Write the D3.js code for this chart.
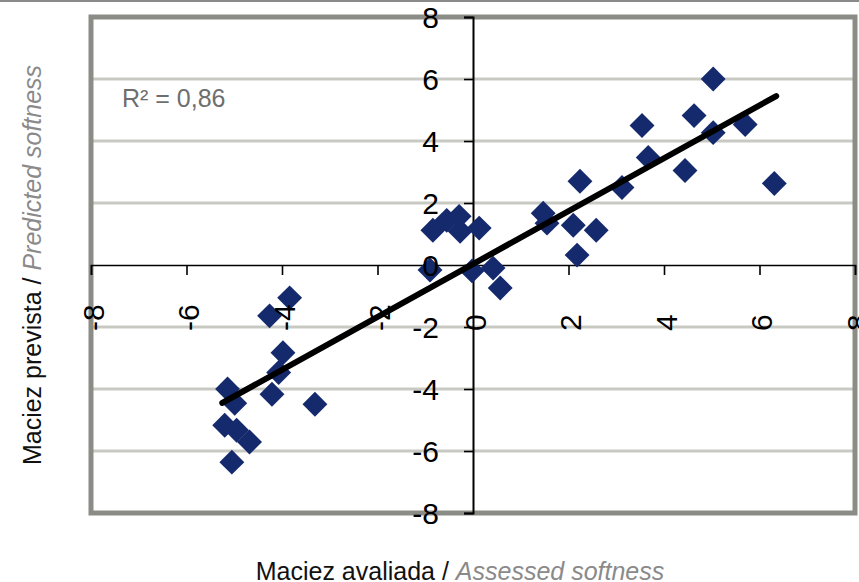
<!DOCTYPE html>
<html>
<head>
<meta charset="utf-8">
<script src="https://cdn.jsdelivr.net/npm/d3@7"></script>
<style>
    body { margin: 0; background: #fff; }
    svg { display: block; font-family: "Liberation Sans", Arial, sans-serif; }
</style>
</head>
<body>
<div id="chart"></div>
<script>
// Values
var assessed = [
    5.03, 4.63, 3.54, 5.03, 5.70, 3.67, 4.44, 2.24, 3.12, 6.31,
    1.47, 1.55, 2.10, 2.58, 2.18,
    -0.84, -0.55, -0.29, -0.27, 0.13, -0.90, -0.02, 0.42, 0.57,
    -3.84, -4.26, -3.98, -4.07, -5.14, -4.99, -4.21, -3.31, -5.20, -4.95, -4.68, -5.05
];
var predicted = [
    6.00, 4.82, 4.50, 4.27, 4.53, 3.47, 3.05, 2.70, 2.50, 2.63,
    1.67, 1.35, 1.28, 1.12, 0.32,
    1.12, 1.44, 1.57, 1.09, 1.19, -0.16, -0.19, -0.10, -0.74,
    -1.06, -1.64, -2.83, -3.47, -4.00, -4.46, -4.17, -4.49, -5.17, -5.33, -5.71, -6.36
];
var trendX = [-5.25, 6.35];
var trendY = [-4.45, 5.45];
var xTicks = [-8, -6, -4, -2, 0, 2, 4, 6, 8];
var yTicks = [-8, -6, -4, -2, 0, 2, 4, 6, 8];
var r2Label = "R\u00b2 = 0,86";

var width = 859, height = 582;
var plot = { left: 91, right: 855, top: 17, bottom: 513 };

var svg = d3.select("#chart").append("svg")
    .attr("width", width)
    .attr("height", height);

var x = d3.scaleLinear().domain([-8, 8]).range([plot.left, plot.right]);
var y = d3.scaleLinear().domain([-8, 8]).range([plot.bottom, plot.top]);

// thin rule at the very top of the page
svg.append("line")
    .attr("x1", 0).attr("x2", width)
    .attr("y1", 1).attr("y2", 1)
    .attr("stroke", "#8a8a8a").attr("stroke-width", 2);

// horizontal gridlines
svg.append("g").selectAll("line")
    .data(yTicks.filter(function(d) { return d !== 0 && d !== 8 && d !== -8; }))
    .enter().append("line")
    .attr("x1", plot.left).attr("x2", plot.right)
    .attr("y1", function(d) { return y(d); })
    .attr("y2", function(d) { return y(d); })
    .attr("stroke", "#c9c9c4")
    .attr("stroke-width", 3);

// plot frame
svg.append("rect")
    .attr("x", plot.left).attr("y", plot.top)
    .attr("width", plot.right - plot.left)
    .attr("height", plot.bottom - plot.top)
    .attr("fill", "none")
    .attr("stroke", "#8c8c87")
    .attr("stroke-width", 5);

// axes crossing at the origin
var xAxis = d3.axisBottom(x).tickValues(xTicks).tickSize(10).tickFormat("");
var yAxis = d3.axisLeft(y).tickValues(yTicks).tickSize(9).tickFormat("");

var gx = svg.append("g")
    .attr("transform", "translate(0," + y(0) + ")")
    .call(xAxis);
gx.select(".domain").attr("stroke", "#000").attr("stroke-width", 1.6);
gx.selectAll(".tick line").attr("stroke", "#000").attr("stroke-width", 1.6);

var gy = svg.append("g")
    .attr("transform", "translate(" + x(0) + ",0)")
    .call(yAxis);
gy.select(".domain").attr("stroke", "#000").attr("stroke-width", 2);
gy.selectAll(".tick line").attr("stroke", "#000").attr("stroke-width", 1.6);

// points: rotated squares
var diamond = d3.symbol().type(d3.symbolSquare).size(310);
svg.append("g").selectAll("path")
    .data(d3.range(assessed.length))
    .enter().append("path")
    .attr("d", diamond)
    .attr("transform", function(i) {
        return "translate(" + x(assessed[i]) + "," + y(predicted[i]) + ") rotate(45)";
    })
    .attr("fill", "#15296d");

// trend line
svg.append("line")
    .attr("x1", x(trendX[0])).attr("y1", y(trendY[0]))
    .attr("x2", x(trendX[1])).attr("y2", y(trendY[1]))
    .attr("stroke", "#000")
    .attr("stroke-width", 6)
    .attr("stroke-linecap", "round");

// tick labels
svg.append("g").selectAll("text")
    .data(xTicks)
    .enter().append("text")
    .attr("transform", function(d) { return "translate(" + (x(d) + 2) + ",331) rotate(-90)"; })
    .attr("dominant-baseline", "central")
    .attr("font-size", 30)
    .attr("fill", "#000")
    .text(function(d) { return d; });

svg.append("g").selectAll("text")
    .data(yTicks)
    .enter().append("text")
    .attr("x", x(0) - 34)
    .attr("y", function(d) { return y(d); })
    .attr("text-anchor", "end")
    .attr("dominant-baseline", "central")
    .attr("font-size", 30)
    .attr("fill", "#000")
    .text(function(d) { return d; });

// R squared
svg.append("text")
    .attr("x", 122).attr("y", 107)
    .attr("font-size", 25)
    .attr("fill", "#6e6e6e")
    .text(r2Label);

// axis titles
var xt = svg.append("text")
    .attr("x", 460).attr("y", 580)
    .attr("text-anchor", "middle")
    .attr("font-size", 25);
xt.append("tspan").attr("fill", "#111").text("Maciez avaliada / ");
xt.append("tspan").attr("fill", "#8a8a8a").attr("font-style", "italic").text("Assessed softness");

var yt = svg.append("text")
    .attr("transform", "translate(41,265) rotate(-90)")
    .attr("text-anchor", "middle")
    .attr("font-size", 25);
yt.append("tspan").attr("fill", "#111").text("Maciez prevista / ");
yt.append("tspan").attr("fill", "#8a8a8a").attr("font-style", "italic").text("Predicted softness");
</script>
</body>
</html>
